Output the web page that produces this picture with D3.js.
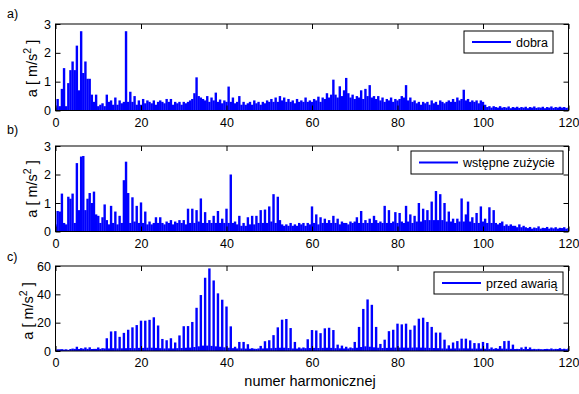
<!DOCTYPE html>
<html><head><meta charset="utf-8">
<script src="https://cdn.jsdelivr.net/npm/d3@7"></script>
<style>
body{margin:0;background:#fff}
svg{display:block}
text{font-family:"Liberation Sans",Arial,sans-serif;fill:#000}
</style>
</head><body>
<svg id="chart" width="579" height="394"></svg>
<script>
// ---- DATA ----
const harmonicStep = 0.5;             // spacing of spectrum samples (harmonic order)
const xTicks = [0, 20, 40, 60, 80, 100, 120];
const yTicksAB = [0, 1, 2, 3];
const yTicksC = [0, 20, 40, 60];
const panelLabels = ["a)", "b)", "c)"];
const legendLabels = ["dobra", "wstępne zużycie", "przed awarią"];
const xLabel = "numer harmonicznej";

// a) dobra  – samples at 0, 0.5, 1.0 ... 120
const seriesA = [
0.1,0.4,0.15,0.75,1.47,0.15,0.95,1.4,1.7,1.4,2.25,0.7,2.75,1.3,1.7,1.1,1.1,0.55,0.3,0.55,
0.15,0.2,0.25,0.15,0.55,0.3,0.35,0.2,0.45,0.2,0.35,0.25,0.3,2.75,0.3,0.65,0.3,0.5,0.2,0.35,
0.2,0.4,0.25,0.35,0.3,0.25,0.35,0.2,0.3,0.35,0.3,0.25,0.4,0.3,0.4,0.2,0.3,0.25,0.3,0.2,
0.3,0.25,0.3,0.35,0.4,0.6,1.15,0.5,0.45,0.4,0.35,0.5,0.3,0.45,0.35,0.62,0.3,0.38,0.25,0.35,
0.3,0.83,0.3,0.45,0.25,0.3,0.5,0.2,0.3,0.2,0.25,0.3,0.2,0.35,0.25,0.3,0.2,0.3,0.25,0.35,
0.3,0.4,0.3,0.45,0.3,0.5,0.35,0.45,0.3,0.4,0.3,0.35,0.25,0.4,0.3,0.35,0.3,0.45,0.3,0.35,
0.3,0.4,0.35,0.48,0.3,0.45,0.4,0.6,0.45,0.55,1.07,0.55,0.45,0.84,0.5,0.7,1.13,0.6,0.45,0.55,
0.4,0.5,0.45,0.7,0.4,0.75,0.5,0.88,0.45,0.5,0.4,0.5,0.35,0.45,0.3,0.4,0.35,0.45,0.3,0.4,
0.35,0.4,0.5,0.45,0.88,0.35,0.45,0.3,0.35,0.25,0.3,0.2,0.3,0.25,0.3,0.2,0.35,0.25,0.3,0.2,
0.35,0.3,0.25,0.3,0.35,0.3,0.4,0.3,0.45,0.35,0.4,0.72,0.35,0.4,0.3,0.35,0.3,0.35,0.25,0.35,
0.3,0.2,0.12,0.15,0.1,0.15,0.12,0.1,0.15,0.1,0.12,0.1,0.14,0.08,0.12,0.1,0.13,0.09,0.12,0.1,
0.13,0.08,0.12,0.1,0.14,0.09,0.11,0.1,0.13,0.08,0.12,0.1,0.14,0.09,0.12,0.1,0.13,0.1,0.12,0.09,
0.1];

// b) wstępne zużycie – samples at 0, 0.5, 1.0 ... 120
const seriesB = [
0.25,0.72,0.7,1.33,0.3,0.25,1.22,1.15,1.33,0.3,2.4,0.75,2.63,2.65,0.75,1.15,1.35,1.0,1.4,0.6,
0.55,0.3,0.5,0.95,0.4,0.25,0.9,0.3,0.7,0.25,0.55,0.3,1.8,2.45,1.35,0.3,1.2,0.35,0.9,0.3,
1.02,0.3,0.7,0.25,0.35,0.25,0.3,0.5,0.3,0.5,0.3,0.25,0.35,0.3,0.4,0.25,0.35,0.3,0.4,0.3,
0.4,0.25,0.8,0.3,0.8,0.3,0.75,0.35,1.16,0.3,0.68,0.3,0.4,0.3,0.55,0.3,0.72,0.3,0.45,0.3,
0.8,0.3,2.0,0.3,0.35,0.25,0.55,0.2,0.3,0.2,0.5,0.25,0.55,0.25,0.55,0.3,0.75,0.3,0.77,0.3,
0.88,0.35,1.31,0.3,1.22,0.4,0.25,0.2,0.25,0.2,0.3,0.2,0.25,0.2,0.3,0.25,0.3,0.2,0.3,0.25,
0.88,0.3,0.6,0.25,0.5,0.3,0.45,0.3,0.4,0.3,0.55,0.3,0.45,0.25,0.35,0.3,0.3,0.25,0.35,0.3,
0.35,0.5,0.3,0.72,0.3,0.4,0.3,0.45,0.3,0.55,0.4,0.3,0.35,0.3,0.9,0.3,0.75,0.3,0.35,0.68,
0.3,0.65,0.35,0.3,0.9,0.35,0.6,0.3,0.55,0.35,1.0,0.35,0.8,0.4,0.75,0.4,1.05,0.4,1.42,0.4,
1.31,0.4,1.0,0.35,0.7,0.35,0.45,0.3,0.45,0.35,1.16,0.35,0.6,1.05,0.35,0.5,0.3,0.65,0.3,0.88,
0.35,0.45,0.3,0.85,0.3,0.75,0.3,0.25,0.3,0.35,0.2,0.25,0.2,0.25,0.2,0.2,0.15,0.25,0.15,0.2,
0.15,0.12,0.16,0.1,0.14,0.12,0.18,0.1,0.13,0.12,0.16,0.1,0.14,0.11,0.15,0.1,0.13,0.12,0.15,0.1,
0.12];

// c) przed awarią – values at integer harmonics 0..120
const peaksC = [
0.5,1.2,1.0,0.8,1.7,3.0,2.0,2.5,2.6,1.5,
2.5,2.0,9,13.8,14,10,12.8,15,16.7,18.3,
21.4,21.4,22,23.8,18,8.5,7.6,9,6,11,
17.5,17.6,20.5,30.5,39.5,51.7,58.3,49.8,40.7,36.2,
31.4,17.4,3,6.4,6.4,4.8,2,1.5,3.6,6.9,
7.6,11.2,16.7,22.1,22.6,16.2,6.4,2.5,2.5,8.3,
14.8,14.5,12.6,16,16.4,14.8,4.5,3.8,3,2.5,
6.4,17,29.7,36.4,32.6,17,5,8,14,15,
19.3,18.8,19.3,15,18,22.8,23.5,20.5,17,13,
13,8,4,6,7,8.7,8.7,7.5,5.6,5.5,
6.4,5.6,2.5,2,3.5,7,7.2,4.5,1.5,2.5,
3,2.5,1.5,1.5,1.2,1.5,1.8,1.5,2,1.6,
1.8];
// c) values between harmonics (at 0.5, 1.5 ... 119.5)
const interC = [
1.2,1.3,1.2,1.4,1.5,1.4,1.6,1.5,1.4,1.5,
1.5,1.8,1.8,2.0,1.8,1.9,2.0,2.1,2.0,2.2,
2.2,2.3,2.3,2.2,2.0,1.8,1.9,1.8,2.0,2.1,
2.3,2.4,2.8,3.3,3.8,3.8,3.6,3.3,3.0,2.6,
2.3,2.0,1.8,1.8,1.7,1.6,1.6,1.8,1.8,1.9,
2.0,2.2,2.3,2.3,2.1,1.8,1.7,1.8,2.0,2.1,
2.2,2.1,2.2,2.3,2.2,2.0,1.9,1.8,1.8,2.0,
2.3,2.8,3.3,3.0,2.6,2.3,2.1,2.2,2.3,2.4,
2.4,2.4,2.3,2.4,2.5,2.4,2.3,2.2,2.1,2.0,
1.8,1.7,1.7,1.8,1.8,1.9,1.8,1.7,1.7,1.7,
1.6,1.5,1.5,1.6,1.7,1.6,1.5,1.4,1.4,1.4,
1.4,1.3,1.3,1.3,1.4,1.3,1.3,1.4,1.3,1.3];

// merge c into one half-step series
const seriesC = [];
peaksC.forEach((p, i) => { seriesC.push(p); if (i < interC.length) seriesC.push(interC[i]); });

// ---- LAYOUT ----
const blue = "#0000ff";
const svg = d3.select("#chart");
const x = d3.scaleLinear().domain([0, 120]).range([55.5, 568.5]);

const panels = [
  {data: seriesA, top: 24, bottom: 110.5, yMax: 3, yTicks: yTicksAB,
   legend: {x: 464, y: 31, w: 89, h: 22}, labelY: 17.5, ylab: {x: 37, y: 68.5}},
  {data: seriesB, top: 146, bottom: 231.5, yMax: 3, yTicks: yTicksAB,
   legend: {x: 411, y: 151, w: 152, h: 23}, labelY: 133.5, ylab: {x: 36.5, y: 189}},
  {data: seriesC, top: 266, bottom: 351, yMax: 60, yTicks: yTicksC,
   legend: {x: 434, y: 272, w: 129, h: 22}, labelY: 261, ylab: {x: 32.5, y: 311}}
];

const barW = 2.4;

panels.forEach((p, k) => {
  const y = d3.scaleLinear().domain([0, p.yMax]).range([p.bottom, p.top]);
  const g = svg.append("g");

  const clipId = "clip" + k;
  svg.append("clipPath").attr("id", clipId).append("rect")
    .attr("x", x(0)).attr("y", p.top)
    .attr("width", x(120) - x(0)).attr("height", p.bottom - p.top);

  // spectrum
  g.append("g").attr("clip-path", `url(#${clipId})`)
    .selectAll("rect").data(p.data).join("rect")
    .attr("x", (d, i) => x(i * harmonicStep) - barW / 2)
    .attr("width", barW)
    .attr("y", d => y(d))
    .attr("height", d => y(0) - y(d))
    .attr("fill", blue);

  // axes (inward ticks, mirrored)
  const fmt = d3.format("d");
  const axB = g.append("g").attr("transform", `translate(0,${p.bottom})`)
    .call(d3.axisBottom(x).tickValues(xTicks).tickFormat(fmt).tickSizeInner(-5).tickSizeOuter(0).tickPadding(7.5));
  const axT = g.append("g").attr("transform", `translate(0,${p.top})`)
    .call(d3.axisTop(x).tickValues(xTicks).tickSizeInner(-5).tickSizeOuter(0).tickFormat(""));
  const axL = g.append("g").attr("transform", `translate(${x(0)},0)`)
    .call(d3.axisLeft(y).tickValues(p.yTicks).tickFormat(fmt).tickSizeInner(-5).tickSizeOuter(0).tickPadding(4.5));
  const axR = g.append("g").attr("transform", `translate(${x(120)},0)`)
    .call(d3.axisRight(y).tickValues(p.yTicks).tickSizeInner(-5).tickSizeOuter(0).tickFormat(""));
  [axB, axT, axL, axR].forEach(a => {
    a.select(".domain").remove();
    a.attr("font-family", null).attr("font-size", null);
    a.selectAll("text").style("font-size", "12.5px");
    a.selectAll("line").attr("stroke", "#000");
  });

  g.append("rect")
    .attr("x", x(0)).attr("y", p.top)
    .attr("width", x(120) - x(0)).attr("height", p.bottom - p.top)
    .attr("fill", "none").attr("stroke", "#000").attr("stroke-width", 1);

  // y label
  const yl = g.append("text")
    .attr("transform", `translate(${p.ylab.x},${p.ylab.y}) rotate(-90)`)
    .attr("text-anchor", "middle").style("font-size", "14.5px");
  yl.append("tspan").text("a [ m/s");
  yl.append("tspan").attr("dy", -6).style("font-size", "10.5px").text("2");
  yl.append("tspan").attr("dy", 6).text(" ]");

  // panel label
  g.append("text").attr("x", 7).attr("y", p.labelY).style("font-size", "12.5px").text(panelLabels[k]);

  // legend
  const L = p.legend;
  g.append("rect").attr("x", L.x).attr("y", L.y).attr("width", L.w).attr("height", L.h)
    .attr("fill", "#fff").attr("stroke", "#000").attr("stroke-width", 1);
  g.append("line").attr("x1", L.x + 8).attr("x2", L.x + 47)
    .attr("y1", L.y + L.h / 2).attr("y2", L.y + L.h / 2)
    .attr("stroke", blue).attr("stroke-width", 2);
  g.append("text").attr("x", L.x + 52).attr("y", L.y + L.h / 2 + 4.5)
    .style("font-size", "12.5px").text(legendLabels[k]);
});

svg.append("text").attr("x", 310).attr("y", 385.5).attr("text-anchor", "middle")
  .style("font-size", "14.5px").text(xLabel);
</script>
</body></html>
